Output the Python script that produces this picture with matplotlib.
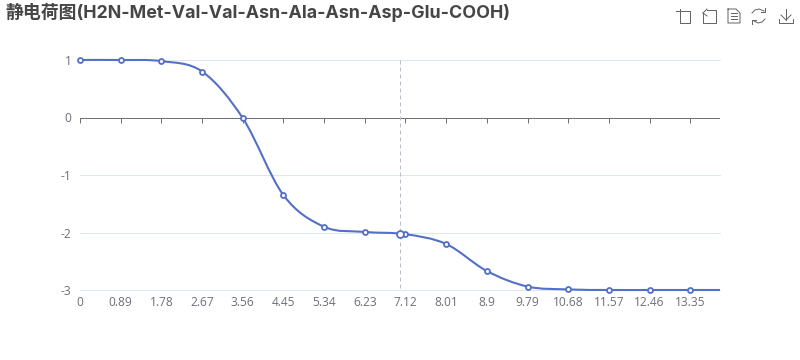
from __future__ import annotations

import matplotlib

matplotlib.use("Agg")
import matplotlib.pyplot as plt
import numpy as np
from matplotlib.lines import Line2D
from matplotlib.patches import PathPatch
from matplotlib.path import Path

plt.rcParams["font.family"] = ["Open Sans", "Noto Sans CJK SC", "DejaVu Sans"]

TITLE = "静电荷图(H2N-Met-Val-Val-Asn-Ala-Asn-Asp-Glu-COOH)"
ph_values = [0, 0.89, 1.78, 2.67, 3.56, 4.45, 5.34, 6.23, 7.12, 8.01, 8.9, 9.79, 10.68, 11.57, 12.46, 13.35, 14]
charge_values = [1.0, 1.0, 0.98, 0.8, -0.01, -1.35, -1.9, -1.99, -2.03, -2.2, -2.67, -2.94, -2.99, -3.0, -3.0, -3.0, -3.0]
x_ticks = [0, 0.89, 1.78, 2.67, 3.56, 4.45, 5.34, 6.23, 7.12, 8.01, 8.9, 9.79, 10.68, 11.57, 12.46, 13.35]
x_tick_labels = ["0", "0.89", "1.78", "2.67", "3.56", "4.45", "5.34", "6.23", "7.12", "8.01", "8.9", "9.79", "10.68", "11.57", "12.46", "13.35"]
y_ticks = [1, 0, -1, -2, -3]
pointer_x = 7.0
pointer_y = -2.02

BLUE = "#5470C6"
GREY = "#6E7079"
GRID = "#E0E6F1"
W, H = 800, 360


def smooth_path(ax, xs, ys):
    # catmull-rom style bezier through the points
    pts = ax.transData.transform(np.column_stack([xs, ys]))
    verts = [pts[0]]
    codes = [Path.MOVETO]
    n = len(pts)
    for i in range(n - 1):
        p0, p1 = pts[i], pts[i + 1]
        prev = pts[max(i - 1, 0)]
        nxt = pts[min(i + 2, n - 1)]
        verts += [p0 + (p1 - prev) / 6, p1 - (nxt - p0) / 6, p1]
        codes += [Path.CURVE4] * 3
    return Path(ax.transData.inverted().transform(np.array(verts)), codes)


def draw_toolbox(fig):
    # toolbox icons, given in reference pixels
    icons = [
        [[(676, 11), (690, 11), (690, 23), (680, 23), (680, 9)]],
        [[(707, 10), (716, 10), (716, 23), (703, 23), (703, 13)], [(703, 13), (707, 9)], [(703, 13), (707, 16)]],
        [[(728, 9), (736, 9), (740, 13), (740, 23), (728, 23), (728, 9)], [(731, 13), (737, 13)], [(731, 16), (737, 16)], [(731, 19), (737, 19)]],
        [[(752, 13), (755, 10), (759, 9), (764, 11)], [(765, 19), (762, 22), (758, 23), (754, 21)], [(765, 8), (765, 12), (761, 12)], [(752, 24), (752, 20), (756, 20)]],
        [[(786, 9), (786, 20)], [(781, 15), (786, 20), (791, 15)], [(779, 19), (779, 23), (793, 23), (793, 19)]],
    ]
    for icon in icons:
        for part in icon:
            px = np.array(part, dtype=float)
            fig.add_artist(Line2D(px[:, 0] / W, 1 - px[:, 1] / H, color="#666666", lw=0.72, transform=fig.transFigure))


def main() -> None:
    fig = plt.figure(figsize=(W / 100, H / 100), dpi=100)
    ax = fig.add_axes([80 / W, 1 - 290 / H, 640 / W, 230 / H])
    ax.set_xlim(0, 14)
    ax.set_ylim(-3, 1)

    for side in ["top", "right", "left", "bottom"]:
        ax.spines[side].set_visible(False)
    ax.axhline(0, color=GREY, lw=0.72, zorder=2)
    for v in y_ticks:
        if v != 0:
            ax.axhline(v, color=GRID, lw=0.72, zorder=1, clip_on=False)

    ax.set_yticks(y_ticks)
    ax.set_yticklabels([str(v) for v in y_ticks])
    ax.tick_params(axis="y", length=0, pad=6, labelsize=8.64, labelcolor=GREY)

    # ticks hang off the zero line, labels stay under the plot
    ax.set_xticks([])
    for v, label in zip(x_ticks, x_tick_labels):
        ax.plot([v, v], [0, -0.087], color=GREY, lw=0.72, zorder=2, solid_capstyle="butt")
        ax.annotate(label, (v, 0), xycoords=ax.get_xaxis_transform(), xytext=(0, -4.5), textcoords="offset points",
                    ha="center", va="top", fontsize=8.64, color=GREY)

    ax.plot([pointer_x, pointer_x], [1, -3], color="#B9BEC9", lw=0.72, ls=(0, (4, 3)), zorder=2)

    ax.add_patch(PathPatch(smooth_path(ax, ph_values, charge_values), fc="none", ec=BLUE, lw=1.5, zorder=3, clip_on=False))
    ax.plot(ph_values[:-1], charge_values[:-1], "o", ms=3.6, mfc="white", mec=BLUE, mew=1.3, zorder=4, clip_on=False)
    ax.plot([pointer_x], [pointer_y], "o", ms=5, mfc="white", mec=BLUE, mew=1.3, zorder=5)

    fig.text(5 / W, 1 - 12 / H, TITLE, fontsize=12.85, fontweight="bold", color="#464646", ha="left", va="center",
             family=["Inter", "Noto Sans CJK SC", "DejaVu Sans"])
    draw_toolbox(fig)

    fig.savefig("out.png", dpi=100)


if __name__ == "__main__":
    main()
